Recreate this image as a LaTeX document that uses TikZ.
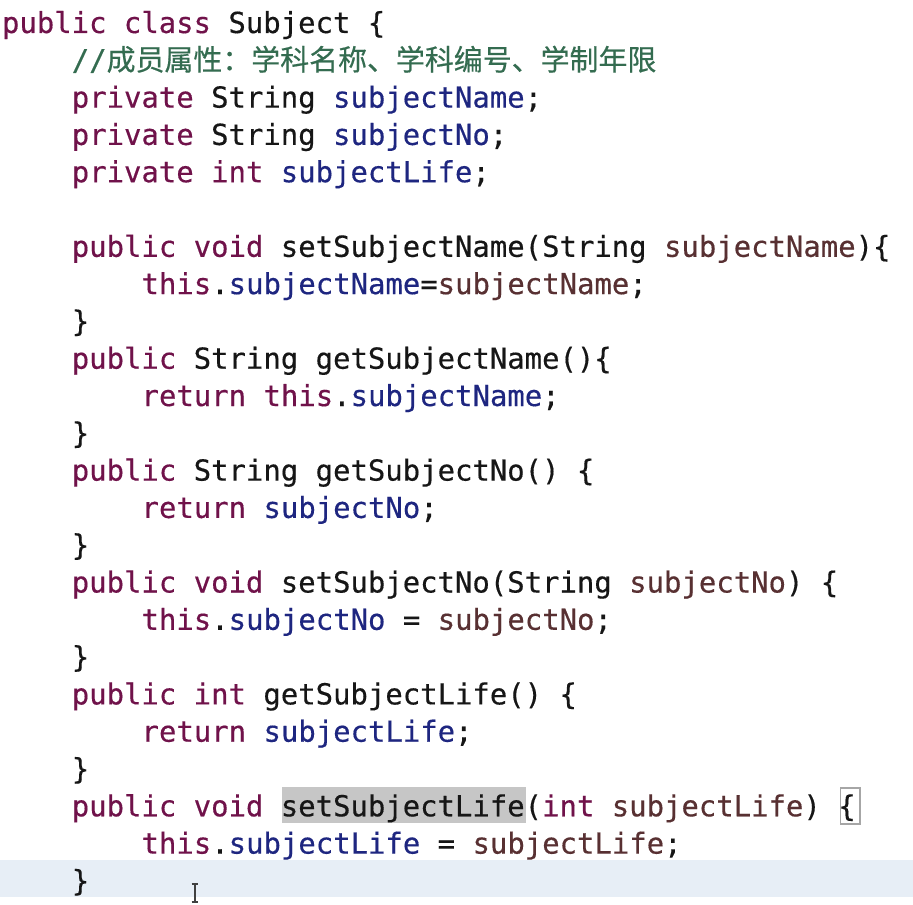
\documentclass[tikz,border=0pt]{standalone}
\usepackage{fontspec}
\setmonofont[FakeBold=0.4]{DejaVu Sans Mono}
\newfontfamily\cjk[FakeBold=0.4]{Noto Sans CJK SC}
\definecolor{kw}{RGB}{112,18,74}
\definecolor{txt}{RGB}{22,22,22}
\definecolor{fld}{RGB}{30,38,128}
\definecolor{par}{RGB}{88,48,50}
\definecolor{cmt}{RGB}{52,108,80}
\definecolor{curline}{RGB}{231,238,246}
\definecolor{sel}{RGB}{198,198,198}
\newcommand{\K}[1]{\textcolor{kw}{#1}}
\newcommand{\F}[1]{\textcolor{fld}{#1}}
\newcommand{\PP}[1]{\textcolor{par}{#1}}
\begin{document}
\begin{tikzpicture}[x=0.75pt,y=-0.75pt,
  code/.style={anchor=base west,inner sep=0pt,outer sep=0pt,text=txt,
    font=\fontsize{21.7}{26}\selectfont\ttfamily}]
\useasboundingbox (0,0) rectangle (913,905);
\fill[white] (0,0) rectangle (913,905);
% current line highlight
\fill[curline] (0,860) rectangle (913,897);
% selection
\fill[sel] (281.5,787) rectangle (526,823);
% bracket match box
\draw[gray!70,line width=0.9pt] (840.5,788) rectangle (860,824);
\def\W{17.45}
\def\LH{37.3}
\foreach \i/\ind/\t in {
  0/0/{\K{public} \K{class} Subject \{},
  2/1/{\K{private} String \F{subjectName};},
  3/1/{\K{private} String \F{subjectNo};},
  4/1/{\K{private} \K{int} \F{subjectLife};},
  6/1/{\K{public} \K{void} setSubjectName(String \PP{subjectName})\{},
  7/2/{\K{this}.\F{subjectName}=\PP{subjectName};},
  8/1/{\}},
  9/1/{\K{public} String getSubjectName()\{},
  10/2/{\K{return} \K{this}.\F{subjectName};},
  11/1/{\}},
  12/1/{\K{public} String getSubjectNo() \{},
  13/2/{\K{return} \F{subjectNo};},
  14/1/{\}},
  15/1/{\K{public} \K{void} setSubjectNo(String \PP{subjectNo}) \{},
  16/2/{\K{this}.\F{subjectNo} = \PP{subjectNo};},
  17/1/{\}},
  18/1/{\K{public} \K{int} getSubjectLife() \{},
  19/2/{\K{return} \F{subjectLife};},
  20/1/{\}},
  21/1/{\K{public} \K{void} setSubjectLife(\K{int} \PP{subjectLife}) \{},
  22/2/{\K{this}.\F{subjectLife} = \PP{subjectLife};},
  23/1/{\}}}
  \node[code] (l\i) at ({2+\ind*4*\W},{33+\i*\LH}) {\t};
\node[code,text=cmt] (l1) at ({2+4*\W},{33+\LH}) {//{\cjk 成员属性：学科名称、学科编号、学制年限}};
% text cursor
\coordinate (ct) at (195,884);
\coordinate (cb) at (195,902);
\draw[black!75,line width=0.8pt] (ct) -- (cb);
\draw[black!75,line width=0.8pt] ([xshift=-2.5pt]ct) -- ([xshift=2.5pt]ct);
\draw[black!75,line width=0.8pt] ([xshift=-2.5pt]cb) -- ([xshift=2.5pt]cb);
\end{tikzpicture}
\end{document}
